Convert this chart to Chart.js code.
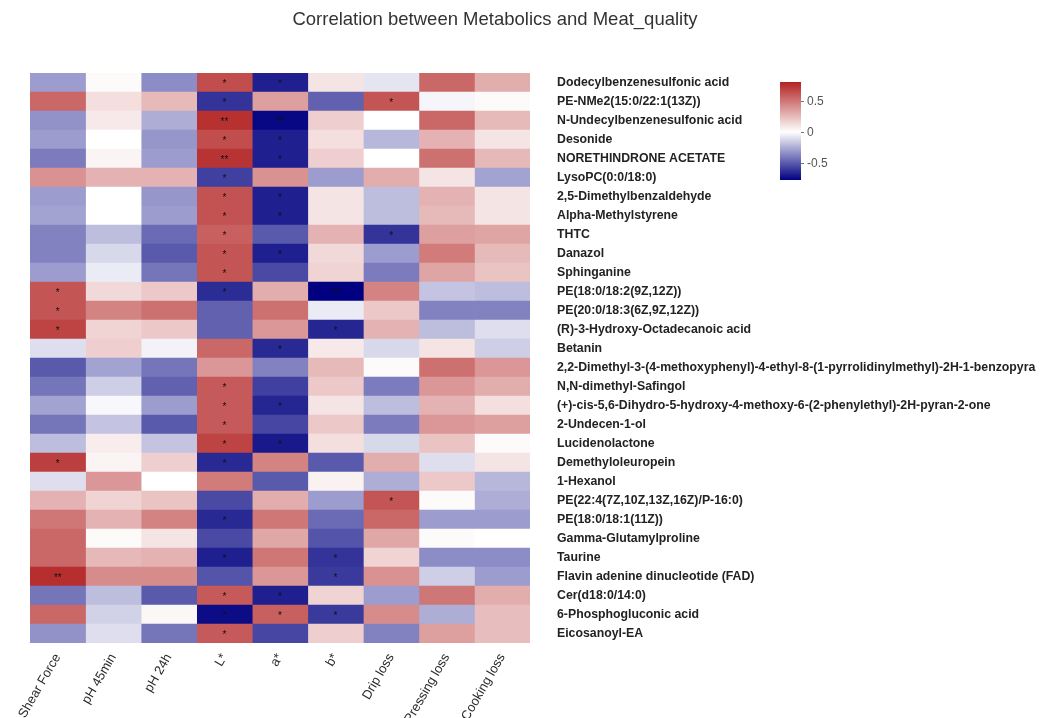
<!DOCTYPE html>
<html>
<head>
<meta charset="utf-8">
<script src="https://cdn.jsdelivr.net/npm/chart.js@4/dist/chart.umd.min.js"></script>
<style>
    html, body { margin: 0; padding: 0; background: #fff; }
    #wrap { width: 1051px; height: 718px; position: relative; }
</style>
</head>
<body>
<div id="wrap"><canvas id="heatmap"></canvas></div>
<script>
const columns = ['Shear Force', 'pH 45min', 'pH 24h', 'L*', 'a*', 'b*', 'Drip loss', 'Pressing loss', 'Cooking loss'];

const metabolites = [
    'Dodecylbenzenesulfonic acid',
    'PE-NMe2(15:0/22:1(13Z))',
    'N-Undecylbenzenesulfonic acid',
    'Desonide',
    'NORETHINDRONE ACETATE',
    'LysoPC(0:0/18:0)',
    '2,5-Dimethylbenzaldehyde',
    'Alpha-Methylstyrene',
    'THTC',
    'Danazol',
    'Sphinganine',
    'PE(18:0/18:2(9Z,12Z))',
    'PE(20:0/18:3(6Z,9Z,12Z))',
    '(R)-3-Hydroxy-Octadecanoic acid',
    'Betanin',
    '2,2-Dimethyl-3-(4-methoxyphenyl)-4-ethyl-8-(1-pyrrolidinylmethyl)-2H-1-benzopyra',
    'N,N-dimethyl-Safingol',
    '(+)-cis-5,6-Dihydro-5-hydroxy-4-methoxy-6-(2-phenylethyl)-2H-pyran-2-one',
    '2-Undecen-1-ol',
    'Lucidenolactone',
    'Demethyloleuropein',
    '1-Hexanol',
    'PE(22:4(7Z,10Z,13Z,16Z)/P-16:0)',
    'PE(18:0/18:1(11Z))',
    'Gamma-Glutamylproline',
    'Taurine',
    'Flavin adenine dinucleotide (FAD)',
    'Cer(d18:0/14:0)',
    '6-Phosphogluconic acid',
    'Eicosanoyl-EA'
];

// correlation values, one array per meat quality trait (rows in metabolite order)
const shearForce = [-0.3, 0.55, -0.33, -0.3, -0.4, 0.4, -0.3, -0.28, -0.38, -0.38, -0.3, 0.62, 0.62, 0.68, -0.1, -0.5, -0.42, -0.28, -0.42, -0.2, 0.7, -0.1, 0.28, 0.5, 0.55, 0.55, 0.76, -0.42, 0.55, -0.33];
const ph45 = [0.02, 0.12, 0.08, 0.0, 0.04, 0.28, 0.0, 0.0, -0.2, -0.12, -0.06, 0.14, 0.45, 0.16, 0.18, -0.28, -0.15, -0.02, -0.18, 0.07, 0.04, 0.38, 0.16, 0.28, 0.02, 0.26, 0.42, -0.2, -0.14, -0.1];
const ph24 = [-0.35, 0.25, -0.25, -0.32, -0.3, 0.28, -0.32, -0.3, -0.45, -0.5, -0.42, 0.2, 0.52, 0.2, -0.04, -0.42, -0.48, -0.3, -0.5, -0.18, 0.18, 0.0, 0.22, 0.45, 0.1, 0.28, 0.42, -0.5, 0.03, -0.42];
const lightness = [0.65, -0.62, 0.75, 0.65, 0.74, -0.58, 0.63, 0.63, 0.58, 0.62, 0.62, -0.64, -0.48, -0.48, 0.55, 0.38, 0.6, 0.6, 0.6, 0.68, -0.65, 0.48, -0.55, -0.65, -0.55, -0.68, -0.52, 0.6, -0.74, 0.6];
const redness = [-0.68, 0.35, -0.75, -0.68, -0.68, 0.4, -0.68, -0.68, -0.5, -0.68, -0.55, 0.3, 0.52, 0.38, -0.65, -0.38, -0.58, -0.66, -0.56, -0.7, 0.45, -0.5, 0.3, 0.5, 0.32, 0.5, 0.38, -0.68, 0.58, -0.56];
const yellowness = [0.1, -0.48, 0.18, 0.12, 0.18, -0.3, 0.1, 0.1, 0.28, 0.14, 0.16, -0.78, -0.06, -0.66, 0.08, 0.25, 0.2, 0.1, 0.2, 0.12, -0.5, 0.05, -0.3, -0.45, -0.52, -0.62, -0.6, 0.16, -0.6, 0.18];
const dripLoss = [-0.08, 0.62, 0.0, -0.22, 0.0, 0.3, -0.2, -0.2, -0.62, -0.3, -0.4, 0.45, 0.2, 0.28, -0.12, 0.02, -0.4, -0.2, -0.4, -0.12, 0.3, -0.25, 0.62, 0.55, 0.32, 0.16, 0.4, -0.3, 0.42, -0.38];
const pressingLoss = [0.55, -0.03, 0.55, 0.28, 0.52, 0.1, 0.28, 0.25, 0.35, 0.48, 0.33, -0.18, -0.38, -0.2, 0.1, 0.52, 0.38, 0.28, 0.38, 0.22, -0.1, 0.2, 0.02, -0.3, 0.02, -0.35, -0.15, 0.5, -0.25, 0.35];
const cookingLoss = [0.3, 0.02, 0.25, 0.1, 0.26, -0.28, 0.1, 0.1, 0.33, 0.25, 0.22, -0.2, -0.38, -0.1, -0.15, 0.38, 0.3, 0.12, 0.35, 0.02, 0.1, -0.22, -0.25, -0.3, 0.0, -0.35, -0.3, 0.3, 0.24, 0.24];

// significance: 0 none, 1 = *, 2 = **
const sigShear = [0,0,0,0,0,0,0,0,0,0,0,1,1,1,0,0,0,0,0,0,1,0,0,0,0,0,2,0,0,0];
const sigPh45 = [0,0,0,0,0,0,0,0,0,0,0,0,0,0,0,0,0,0,0,0,0,0,0,0,0,0,0,0,0,0];
const sigPh24 = [0,0,0,0,0,0,0,0,0,0,0,0,0,0,0,0,0,0,0,0,0,0,0,0,0,0,0,0,0,0];
const sigL = [1,1,2,1,2,1,1,1,1,1,1,1,0,0,0,0,1,1,1,1,1,0,0,1,0,1,0,1,1,1];
const sigA = [1,0,2,1,1,0,1,1,0,1,0,0,0,0,1,0,0,1,0,1,0,0,0,0,0,0,0,1,1,0];
const sigB = [0,0,0,0,0,0,0,0,0,0,0,2,0,1,0,0,0,0,0,0,0,0,0,0,0,1,1,0,1,0];
const sigDrip = [0,1,0,0,0,0,0,0,1,0,0,0,0,0,0,0,0,0,0,0,0,0,1,0,0,0,0,0,0,0];
const sigPressing = [0,0,0,0,0,0,0,0,0,0,0,0,0,0,0,0,0,0,0,0,0,0,0,0,0,0,0,0,0,0];
const sigCooking = [0,0,0,0,0,0,0,0,0,0,0,0,0,0,0,0,0,0,0,0,0,0,0,0,0,0,0,0,0,0];

const colorTicks = [0.5, 0, -0.5];

const series = [shearForce, ph45, ph24, lightness, redness, yellowness, dripLoss, pressingLoss, cookingLoss];
const sigs = [sigShear, sigPh45, sigPh24, sigL, sigA, sigB, sigDrip, sigPressing, sigCooking];

const colorMin = -0.775;
const colorMax = 0.805;
const navy = [0, 0, 128];
const white = [255, 255, 255];
const firebrick = [178, 34, 34];

function mix(a, b, t) {
    return a.map((c, i) => Math.round(c + (b[i] - c) * t));
}

function colorFor(v) {
    let rgb;
    if (v >= 0) {
        rgb = mix(white, firebrick, Math.min(v / colorMax, 1));
    } else {
        rgb = mix(white, navy, Math.min(v / colorMin, 1));
    }
    return `rgb(${rgb[0]}, ${rgb[1]}, ${rgb[2]})`;
}

const datasets = columns.map((name, c) => ({
    label: name,
    data: metabolites.map((m, r) => ({ x: [c, c + 1], y: m, v: series[c][r], sig: sigs[c][r] })),
    backgroundColor: series[c].map(colorFor),
    borderWidth: 0,
    borderSkipped: false,
    grouped: false,
    barPercentage: 1,
    categoryPercentage: 1
}));

const heatmapExtras = {
    id: 'heatmapExtras',
    afterDatasetsDraw(chart) {
        const ctx = chart.ctx;
        ctx.save();
        ctx.fillStyle = '#111';
        ctx.font = '10px "Liberation Sans", Arial, sans-serif';
        ctx.textAlign = 'center';
        ctx.textBaseline = 'middle';
        chart.data.datasets.forEach((ds, i) => {
            const meta = chart.getDatasetMeta(i);
            meta.data.forEach((bar, r) => {
                const level = ds.data[r].sig;
                if (!level) return;
                const p = bar.getProps(['x', 'y', 'base'], true);
                ctx.fillText(level === 2 ? '**' : '*', (p.x + p.base) / 2, p.y + 2);
            });
        });
        ctx.restore();
    },
    afterDraw(chart) {
        const ctx = chart.ctx;
        ctx.save();

        // title
        ctx.fillStyle = '#333';
        ctx.font = '18.5px "Liberation Sans", Arial, sans-serif';
        ctx.textAlign = 'center';
        ctx.textBaseline = 'middle';
        ctx.fillText('Correlation between Metabolics and Meat_quality', 495, 20);

        // colour key
        const left = 780, width = 21, top = 82, bottom = 180;
        const yOf = v => bottom - (v - colorMin) / (colorMax - colorMin) * (bottom - top);
        const grad = ctx.createLinearGradient(0, bottom, 0, top);
        grad.addColorStop(0, colorFor(colorMin));
        grad.addColorStop((0 - colorMin) / (colorMax - colorMin), colorFor(0));
        grad.addColorStop(1, colorFor(colorMax));
        ctx.fillStyle = grad;
        ctx.fillRect(left, top, width, bottom - top);

        ctx.strokeStyle = '#777';
        ctx.lineWidth = 1;
        ctx.fillStyle = '#555';
        ctx.font = '12px "Liberation Sans", Arial, sans-serif';
        ctx.textAlign = 'left';
        colorTicks.forEach(t => {
            const y = Math.round(yOf(t)) + 0.5;
            ctx.beginPath();
            ctx.moveTo(left + width, y);
            ctx.lineTo(left + width + 3, y);
            ctx.stroke();
            ctx.fillText(String(t), left + width + 6, y);
        });
        ctx.restore();
    }
};

new Chart(document.getElementById('heatmap'), {
    type: 'bar',
    data: { labels: metabolites, datasets: datasets },
    options: {
        indexAxis: 'y',
        responsive: true,
        maintainAspectRatio: false,
        animation: false,
        layout: { padding: { left: 30, top: 73, right: 0, bottom: 0 } },
        plugins: {
            legend: { display: false },
            tooltip: {
                callbacks: {
                    title: items => items[0].raw.y,
                    label: item => `${item.dataset.label}: ${item.raw.v}`
                }
            }
        },
        scales: {
            x: {
                type: 'linear',
                min: 0,
                max: 9,
                grid: { display: false },
                border: { display: false },
                afterBuildTicks: scale => {
                    scale.ticks = columns.map((_, i) => ({ value: i + 0.5 }));
                },
                afterFit: scale => {
                    scale.height = 75;
                    scale.paddingLeft = 0;
                    scale.paddingRight = 0;
                },
                ticks: {
                    autoSkip: false,
                    minRotation: 60,
                    maxRotation: 60,
                    padding: 0,
                    color: '#2a2a2a',
                    font: { family: '"Liberation Sans", Arial, sans-serif', size: 13 },
                    callback: value => columns[Math.floor(value)]
                }
            },
            y: {
                type: 'category',
                position: 'right',
                grid: { display: false, drawTicks: false },
                border: { display: false },
                afterFit: scale => {
                    scale.width = 521;
                },
                ticks: {
                    autoSkip: false,
                    padding: 27,
                    color: '#222',
                    font: { family: '"Liberation Sans", Arial, sans-serif', size: 12.3, weight: 'bold' }
                }
            }
        }
    },
    plugins: [heatmapExtras]
});
</script>
</body>
</html>
